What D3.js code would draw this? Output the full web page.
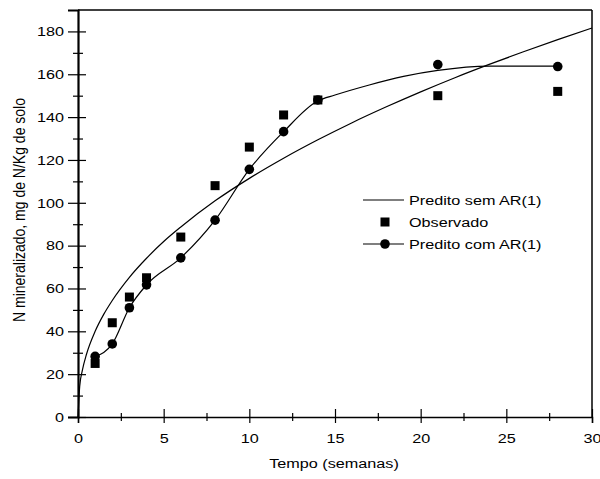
<!DOCTYPE html>
<html>
<head>
<meta charset="utf-8">
<script src="https://cdn.jsdelivr.net/npm/d3@7"></script>
<style>
  body { margin: 0; background: #fff; }
  svg { display: block; }
  text { font-family: "Liberation Sans", Arial, sans-serif; fill: #000; }
</style>
</head>
<body>
<svg id="chart" width="600" height="479"></svg>
<script>
// observed values (weeks, mg N/kg soil)
var semanas = [1, 2, 3, 4, 6, 8, 10, 12, 14, 21, 28];
var observado = [25, 44, 56, 65, 84, 108, 126, 141, 148, 150, 152];
var preditoCom = [28.3, 34.1, 51, 61.7, 74.3, 91.9, 115.6, 133.2, 148, 164.5, 163.6];

// fitted AR(1) curve
var curvaComX = [1, 2, 3, 4, 6, 8, 10, 12, 14, 15, 17, 19, 21, 24, 28];
var curvaComY = [28.3, 34.1, 51, 61.7, 74.3, 91.9, 115.6, 133.2, 147.6, 150.3, 155, 159, 161.8, 163.8, 163.8];

// curve without AR(1)
var curvaSemX = [0, 0.1, 0.25, 0.5, 1, 1.5, 2, 3, 4, 5, 6, 8, 10, 12, 14, 16, 18, 20, 22, 24, 26, 28, 30];
var curvaSemY = [0, 14.4, 21.6, 29.4, 40, 47.9, 54.4, 65.2, 74.1, 81.9, 88.7, 100.9, 111.4, 120.8, 129.4, 137.4, 144.8, 151.8, 158.4, 164.6, 170.5, 176.2, 181.6];

var xTicks = [0, 5, 10, 15, 20, 25, 30];
var xMinor = [2.5, 7.5, 12.5, 17.5, 22.5, 27.5];
var yTicks = [0, 20, 40, 60, 80, 100, 120, 140, 160, 180];
var yMinor = [10, 30, 50, 70, 90, 110, 130, 150, 170];

function drawChart() {
  var svg = d3.select("#chart"),
      mLeft = 78, mRight = 592, mTop = 10, mBottom = 417,
      sx = 1.2; // horizontal stretch of the original lettering

  var x = d3.scaleLinear().domain([0, 30]).range([mLeft, mRight]);
  var y = d3.scaleLinear().domain([0, 190]).range([mBottom, mTop]);

  // frame top and right
  svg.append("line")
      .attr("x1", mLeft).attr("x2", mRight).attr("y1", mTop).attr("y2", mTop)
      .attr("stroke", "#000").attr("stroke-width", 1.5);
  svg.append("line")
      .attr("x1", mRight).attr("x2", mRight).attr("y1", mTop).attr("y2", mBottom)
      .attr("stroke", "#000").attr("stroke-width", 1.5);

  // x axis
  var gx = svg.append("g")
      .attr("transform", "translate(0," + mBottom + ")")
      .call(d3.axisBottom(x).tickValues(xTicks).tickSize(6).tickPadding(10));
  gx.select(".domain").attr("stroke-width", 1.5);
  gx.selectAll(".tick line").attr("y1", -8).attr("stroke-width", 1.2);
  gx.selectAll(".tick text")
      .style("font-size", "13.5px")
      .attr("transform", "scale(" + sx + ",1)");

  var gx2 = svg.append("g")
      .attr("transform", "translate(0," + mBottom + ")")
      .call(d3.axisBottom(x).tickValues(xMinor).tickSize(4).tickFormat(""));
  gx2.select(".domain").remove();
  gx2.selectAll(".tick line").attr("y1", -4).attr("stroke-width", 1.2);

  // y axis
  var gy = svg.append("g")
      .attr("transform", "translate(" + mLeft + ",0)")
      .call(d3.axisLeft(y).tickValues(yTicks).tickSize(10).tickPadding(4));
  gy.select(".domain").attr("stroke-width", 2.2);
  gy.selectAll(".tick line").attr("x1", 8).attr("stroke-width", 1.2);
  gy.selectAll(".tick text")
      .style("font-size", "13.5px")
      .attr("x", 0)
      .attr("transform", "translate(-14,0) scale(" + sx + ",1)");

  var gy2 = svg.append("g")
      .attr("transform", "translate(" + mLeft + ",0)")
      .call(d3.axisLeft(y).tickValues(yMinor).tickSize(5).tickFormat(""));
  gy2.select(".domain").remove();
  gy2.selectAll(".tick line").attr("x1", 5).attr("stroke-width", 1.2);

  // axis titles
  svg.append("text")
      .attr("transform", "translate(334,468) scale(" + sx + ",1)")
      .attr("text-anchor", "middle")
      .style("font-size", "13.5px")
      .text("Tempo (semanas)");

  svg.append("text")
      .attr("transform", "translate(25,210) scale(" + sx + ",1) rotate(-90)")
      .attr("text-anchor", "middle")
      .style("font-size", "14px")
      .text("N mineralizado, mg de N/Kg de solo");

  // curves
  var line = d3.line()
      .x(function(d) { return x(d[0]); })
      .y(function(d) { return y(d[1]); })
      .curve(d3.curveMonotoneX);

  svg.append("path")
      .datum(d3.zip(curvaSemX, curvaSemY))
      .attr("fill", "none").attr("stroke", "#000").attr("stroke-width", 1.2)
      .attr("d", line);

  svg.append("path")
      .datum(d3.zip(curvaComX, curvaComY))
      .attr("fill", "none").attr("stroke", "#000").attr("stroke-width", 1.2)
      .attr("d", line);

  // markers
  var sq = 9;
  svg.append("g").selectAll("rect")
      .data(d3.zip(semanas, observado))
      .enter().append("rect")
      .attr("x", function(d) { return x(d[0]) - sq / 2; })
      .attr("y", function(d) { return y(d[1]) - sq / 2; })
      .attr("width", sq).attr("height", sq)
      .attr("fill", "#000");

  svg.append("g").selectAll("circle")
      .data(d3.zip(semanas, preditoCom))
      .enter().append("circle")
      .attr("cx", function(d) { return x(d[0]); })
      .attr("cy", function(d) { return y(d[1]); })
      .attr("r", 4.8)
      .attr("fill", "#000");

  // legend
  var legend = svg.append("g");
  var lx1 = 363, lx2 = 404, lmx = 385, ltx = 409;

  legend.append("line")
      .attr("x1", lx1).attr("x2", lx2).attr("y1", 200).attr("y2", 200)
      .attr("stroke", "#000").attr("stroke-width", 1.2);
  legend.append("text")
      .attr("transform", "translate(" + ltx + ",200) scale(" + sx + ",1)")
      .attr("dy", "0.35em").style("font-size", "13.5px")
      .text("Predito sem AR(1)");

  legend.append("rect")
      .attr("x", lmx - sq / 2).attr("y", 222 - sq / 2)
      .attr("width", sq).attr("height", sq).attr("fill", "#000");
  legend.append("text")
      .attr("transform", "translate(" + ltx + ",222) scale(" + sx + ",1)")
      .attr("dy", "0.35em").style("font-size", "13.5px")
      .text("Observado");

  legend.append("line")
      .attr("x1", lx1).attr("x2", lx2).attr("y1", 244).attr("y2", 244)
      .attr("stroke", "#000").attr("stroke-width", 1.2);
  legend.append("circle")
      .attr("cx", lmx).attr("cy", 244).attr("r", 4.8).attr("fill", "#000");
  legend.append("text")
      .attr("transform", "translate(" + ltx + ",244) scale(" + sx + ",1)")
      .attr("dy", "0.35em").style("font-size", "13.5px")
      .text("Predito com AR(1)");
}

drawChart();
</script>
</body>
</html>
